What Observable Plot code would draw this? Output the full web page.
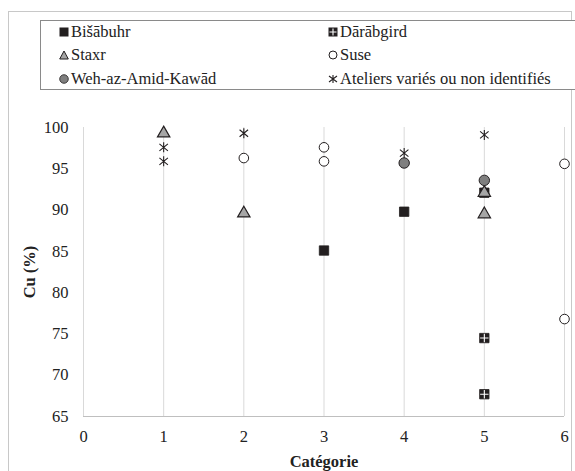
<!DOCTYPE html>
<html>
<head>
<meta charset="utf-8">
<script src="https://cdn.jsdelivr.net/npm/d3@7"></script>
<script src="https://cdn.jsdelivr.net/npm/@observablehq/plot@0.6"></script>
<style>
  html, body { margin: 0; padding: 0; background: #fff; }
  #wrap { position: relative; width: 575px; height: 471px; overflow: hidden; font-family: "Liberation Serif", "Times New Roman", Times, Tinos, "Noto Serif", "Nimbus Roman", FreeSerif, "DejaVu Serif", serif; }
  #frame { position: absolute; left: 8px; top: 11px; width: 564px; height: 470px; border: 1px solid #c8c8c8; box-sizing: border-box; }
  #legend { position: absolute; left: 40px; top: 20px; width: 560px; height: 70px; border: 1px solid #8a8a8a; box-sizing: border-box; background: #fff; }
  .item { position: absolute; display: flex; align-items: center; font-size: 16.5px; color: #222; white-space: nowrap; line-height: 1; }
  .item svg { margin-right: 2px; }
  #chart { position: absolute; left: 0; top: 90px; }
  #chart svg, #chart svg text { font-family: "Liberation Serif", "Times New Roman", Times, Tinos, "Noto Serif", "Nimbus Roman", FreeSerif, "DejaVu Serif", serif !important; }
  g[aria-label="y-axis label"] text, g[aria-label="x-axis label"] text { font-weight: bold; }
</style>
</head>
<body>
<div id="wrap">
  <div id="frame"></div>
  <div id="legend"></div>
  <div id="chart"></div>
</div>
<script>
// ---- data ----
const seriesNames = ["Bišābuhr", "Dārābgird", "Staxr", "Suse", "Weh-az-Amid-Kawād", "Ateliers variés ou non identifiés"];
const bisabuhrX = [3, 4];            const bisabuhrY = [85.1, 89.8];
const darabgirdX = [5, 5, 5];        const darabgirdY = [92.1, 74.5, 67.7];
const staxrX = [1, 2, 5, 5];         const staxrY = [99.3, 89.6, 92.1, 89.5];
const suseX = [2, 3, 3, 6, 6];       const suseY = [96.3, 97.6, 95.9, 95.6, 76.8];
const wehX = [4, 5];                 const wehY = [95.7, 93.6];
const ateliersX = [1, 1, 2, 4, 5];   const ateliersY = [97.6, 95.9, 99.3, 96.9, 99.1];
const xTicks = [0, 1, 2, 3, 4, 5, 6];
const yTicks = [65, 70, 75, 80, 85, 90, 95, 100];

const pts = (xs, ys) => xs.map((x, i) => ({x, y: ys[i]}));

// custom symbols
const crossSym = { draw(ctx, size) { const r = Math.sqrt(size / Math.PI); ctx.moveTo(-r, 0); ctx.lineTo(r, 0); ctx.moveTo(0, -r); ctx.lineTo(0, r); } };
const starSym = { draw(ctx, size) {
  const r = Math.sqrt(size / Math.PI);
  ctx.moveTo(0, -r); ctx.lineTo(0, r);
  const a = r * 0.85, b = r * 0.7;
  ctx.moveTo(-a, -b); ctx.lineTo(a, b);
  ctx.moveTo(-a, b); ctx.lineTo(a, -b);
} };

const dark = "#231f20";
const serif = "'Liberation Serif', 'Times New Roman', Times, Tinos, 'Noto Serif', 'Nimbus Roman', FreeSerif, 'DejaVu Serif', serif";

const plot = Plot.plot({
  width: 575,
  height: 381,
  marginTop: 37,
  marginBottom: 55,
  marginLeft: 83,
  marginRight: 11,
  style: { fontFamily: serif, fontSize: "16.5px", color: "#222", background: "transparent" },
  x: { domain: [0, 6], ticks: xTicks, tickFormat: "d", label: "Catégorie", labelAnchor: "center", labelArrow: "none" },
  y: { domain: [65, 100], ticks: yTicks, tickFormat: "d", label: "Cu (%)", labelAnchor: "center", labelArrow: "none" },
  marks: [
    Plot.gridX(xTicks, { stroke: "#d9d9d9", strokeOpacity: 1 }),
    Plot.ruleY([65], { stroke: "#bfbfbf" }),
    Plot.axisX({ ticks: xTicks, tickFormat: "d", tickSize: 0, tickPadding: 14, label: "Catégorie", labelAnchor: "center", labelArrow: "none", labelOffset: 50, fontSize: "16.5px" }),
    Plot.axisY({ ticks: yTicks, tickFormat: "d", tickSize: 0, tickPadding: 15, label: "Cu (%)", labelAnchor: "center", labelArrow: "none", labelOffset: 60, fontSize: "16.5px" }),
    Plot.dot(pts(bisabuhrX, bisabuhrY), { x: "x", y: "y", symbol: "square", r: 5.3, fill: dark, stroke: dark, strokeWidth: 0.8 }),
    Plot.dot(pts(darabgirdX, darabgirdY), { x: "x", y: "y", symbol: "square", r: 5.3, fill: dark, stroke: dark, strokeWidth: 0.8 }),
    Plot.dot(pts(darabgirdX, darabgirdY), { x: "x", y: "y", symbol: crossSym, r: 4.2, stroke: "#fff", strokeWidth: 1.1 }),
    Plot.dot(pts(staxrX, staxrY), { x: "x", y: "y", symbol: "triangle", r: 4.6, fill: "#a6a6a6", stroke: dark, strokeWidth: 1.2 }),
    Plot.dot(pts(suseX, suseY), { x: "x", y: "y", symbol: "circle", r: 4.8, fill: "#fff", stroke: dark, strokeWidth: 1 }),
    Plot.dot(pts(wehX, wehY), { x: "x", y: "y", symbol: "circle", r: 5.2, fill: "#7f7f7f", stroke: dark, strokeWidth: 1 }),
    Plot.dot(pts(ateliersX, ateliersY), { x: "x", y: "y", symbol: starSym, r: 5, stroke: dark, strokeWidth: 1.1 })
  ]
});
document.getElementById("chart").appendChild(plot);

// ---- legend (HTML, above the svg) ----
const icons = [
  `<svg width="10" height="10"><rect x="0.5" y="0.5" width="9" height="9" fill="${dark}"/></svg>`,
  `<svg width="10" height="10"><rect x="0.5" y="0.5" width="9" height="9" fill="${dark}"/><path d="M5,1.5V8.5M1.5,5H8.5" stroke="#fff" stroke-width="1.1"/></svg>`,
  `<svg width="10" height="10"><path d="M5,1L9.3,9H0.7Z" fill="#a6a6a6" stroke="${dark}" stroke-width="1"/></svg>`,
  `<svg width="10" height="10"><circle cx="5" cy="5" r="4" fill="#fff" stroke="${dark}" stroke-width="1"/></svg>`,
  `<svg width="10" height="10"><circle cx="5" cy="5" r="4.3" fill="#7f7f7f" stroke="${dark}" stroke-width="0.8"/></svg>`,
  `<svg width="10" height="10"><path d="M5,1V9M1,2L9,8M1,8L9,2" stroke="${dark}" stroke-width="1.1"/></svg>`
];
const legend = document.getElementById("legend");
const colLeft = [18, 287];
const rowTop = [3, 26, 50];
seriesNames.forEach((name, i) => {
  const d = document.createElement("div");
  d.className = "item";
  d.style.left = colLeft[i % 2] + "px";
  d.style.top = rowTop[Math.floor(i / 2)] + "px";
  d.innerHTML = icons[i] + `<span>${name}</span>`;
  legend.appendChild(d);
});
</script>
</body>
</html>
